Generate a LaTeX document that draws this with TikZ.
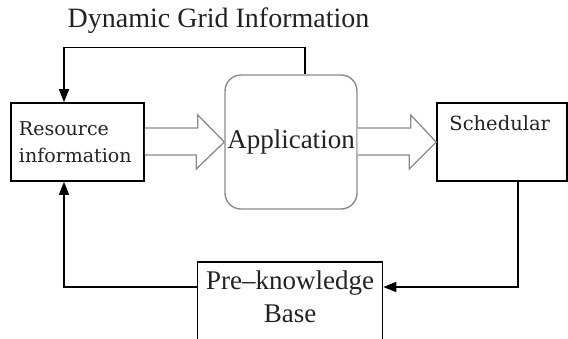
\documentclass[tikz,border=0pt]{standalone}
\usepackage{fontspec}
\setmainfont{Liberation Serif}
\newfontfamily\slabfont{DejaVu Serif}
\usetikzlibrary{arrows.meta,calc}
\definecolor{framegray}{HTML}{8A8A8A}
\definecolor{inkgray}{HTML}{222222}
\begin{document}
\begin{tikzpicture}[x=1pt,y=-1pt,
  every node/.style={text=inkgray},
  box/.style={draw=black,line width=1.6pt,inner sep=0pt},
  appbox/.style={draw=framegray,line width=1.4pt,rounded corners=16pt,inner sep=0pt,
    minimum width=132,minimum height=134},
  conn/.style={draw=black,line width=1.6pt,-{Triangle[length=13pt,width=10pt]}},
  fat/.style={draw=framegray,line width=1.3pt,fill=white,line join=miter},
  bigtext/.style={font=\fontsize{27}{33}\selectfont},
  slabtext/.style={font=\slabfont\fontsize{19.5}{27}\selectfont}
]
\useasboundingbox (0,0) rectangle (568,338);
\clip (0,0) rectangle (568,338);

% title above the feedback loop
\node[font=\fontsize{28}{33}\selectfont] (title) at (218.5,21) {Dynamic Grid Information};

% main blocks
\node[box,minimum width=133,minimum height=78,text width=117,align=left,
  font=\slabfont\fontsize{19}{27}\selectfont]
  (res) at (77.5,142) {Resource\\information};
\node[appbox,bigtext] (app) at (291,142) {Application};
\node[box,minimum width=130,minimum height=78] (sch) at (502,142) {};
\node[slabtext,anchor=west,inner sep=0pt] (schlbl) at ([xshift=13pt,yshift=-21pt]sch.north west) {Schedular};
\node[box,anchor=north,minimum width=185,inner ysep=9pt,bigtext] (pre) at (290,261)
  {\parbox[t][95pt][t]{180pt}{\centering Pre\textendash knowledge\\Base}};

% hollow flow arrows
\draw[fat] ($(res.east)+(0,-14)$) -- ++(53,0) -- ++(0,-13) -- (app.west)
  -- ++(-28,27) -- ++(0,-14) -- ($(res.east)+(0,13)$);
\draw[fat] ($(app.east)+(0,-14)$) -- ++(53,0) -- ++(0,-13) -- (sch.west)
  -- ++(-27,27) -- ++(0,-14) -- ($(app.east)+(0,13)$);

% feedback connectors
\draw[conn] ([xshift=14pt]app.north) -- ++(0,-27) -| ([xshift=-13.5pt]res.north);
\draw[conn] ([xshift=16pt]sch.south) |- ([yshift=-26pt]pre.north east);
\draw[conn] ([yshift=-26pt]pre.north west) -| ([xshift=-13.5pt]res.south);
\end{tikzpicture}
\end{document}
